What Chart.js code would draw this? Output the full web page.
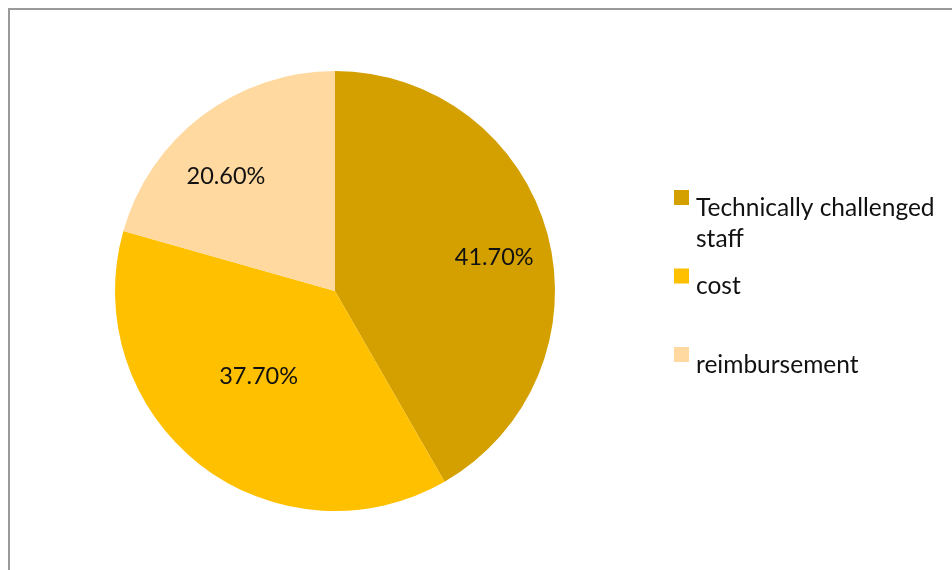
<!DOCTYPE html>
<html>
<head>
<meta charset="utf-8">
<style>
  html, body { margin: 0; padding: 0; background: #fff; }
  #wrap { width: 952px; height: 570px; position: relative; }
</style>
<script src="https://cdn.jsdelivr.net/npm/chart.js@4/dist/chart.umd.min.js"></script>
</head>
<body>
<div id="wrap"><canvas id="c" width="952" height="570"></canvas></div>
<script>
// Share of respondents citing each barrier
const categories = ['Technically challenged staff', 'cost', 'reimbursement'];
const shares = [41.7, 37.7, 20.6];
const sliceColors = ['#D4A000', '#FFC000', '#FFD9A0'];

const FONT = 'Lato, "Open Sans", sans-serif';

// Outer frame around the whole figure
const framePlugin = {
  id: 'frame',
  beforeDraw(chart) {
    const ctx = chart.ctx;
    ctx.save();
    ctx.fillStyle = '#ffffff';
    ctx.fillRect(0, 0, chart.width, chart.height);
    ctx.strokeStyle = '#9a9a9a';
    ctx.lineWidth = 2;
    ctx.strokeRect(9, 9, chart.width + 20, chart.height + 20);
    ctx.restore();
  }
};

// Percentage labels inside each slice
const sliceLabelPlugin = {
  id: 'sliceLabels',
  afterDatasetsDraw(chart, args, opts) {
    const ctx = chart.ctx;
    const meta = chart.getDatasetMeta(0);
    ctx.save();
    ctx.font = opts.font;
    ctx.fillStyle = '#111';
    ctx.textAlign = 'center';
    ctx.textBaseline = 'middle';
    meta.data.forEach((arc, i) => {
      const p = arc.getProps(['x', 'y', 'startAngle', 'endAngle', 'outerRadius'], true);
      const mid = (p.startAngle + p.endAngle) / 2 + (opts.angleShift[i] || 0) * Math.PI / 180;
      const r = p.outerRadius * opts.radial[i];
      const v = chart.data.datasets[0].data[i];
      ctx.fillText(v.toFixed(2) + '%', p.x + Math.cos(mid) * r, p.y + Math.sin(mid) * r);
    });
    ctx.restore();
  }
};

// Legend on the right: square key above-left of wrapped label text
const sideLegendPlugin = {
  id: 'sideLegend',
  afterDraw(chart, args, opts) {
    const ctx = chart.ctx;
    const labels = chart.data.labels;
    const colors = chart.data.datasets[0].backgroundColor;
    ctx.save();
    ctx.font = opts.font;
    ctx.textAlign = 'left';
    ctx.textBaseline = 'middle';
    labels.forEach((label, i) => {
      const top = opts.top + i * opts.slot;
      ctx.fillStyle = colors[i];
      ctx.fillRect(opts.x, top, opts.box, opts.box);
      // wrap words into lines
      const words = label.split(' ');
      const lines = [];
      let line = '';
      words.forEach(w => {
        const test = line ? line + ' ' + w : w;
        if (ctx.measureText(test).width > opts.maxWidth && line) {
          lines.push(line);
          line = w;
        } else {
          line = test;
        }
      });
      lines.push(line);
      ctx.fillStyle = '#111';
      lines.forEach((ln, k) => {
        ctx.fillText(ln, opts.textX, top + opts.textOffset + k * opts.lineHeight);
      });
    });
    ctx.restore();
  }
};

new Chart(document.getElementById('c'), {
  type: 'pie',
  data: {
    labels: categories,
    datasets: [{
      data: shares,
      backgroundColor: sliceColors,
      borderWidth: 0,
      hoverOffset: 0,
      offset: 0
    }]
  },
  options: {
    responsive: false,
    animation: false,
    events: [],
    layout: { padding: { left: 115, top: 71, right: 397, bottom: 59 } },
    plugins: {
      legend: { display: false },
      tooltip: { enabled: false },
      sliceLabels: {
        font: '23.5px ' + FONT,
        radial: [0.74, 0.52, 0.72],
        angleShift: [2.9, 3.9, -6.4]
      },
      sideLegend: {
        font: '24.5px ' + FONT,
        x: 674, top: 190, slot: 78.5, box: 15,
        textX: 696, textOffset: 18, lineHeight: 31, maxWidth: 250
      }
    }
  },
  plugins: [framePlugin, sliceLabelPlugin, sideLegendPlugin]
});
</script>
</body>
</html>
